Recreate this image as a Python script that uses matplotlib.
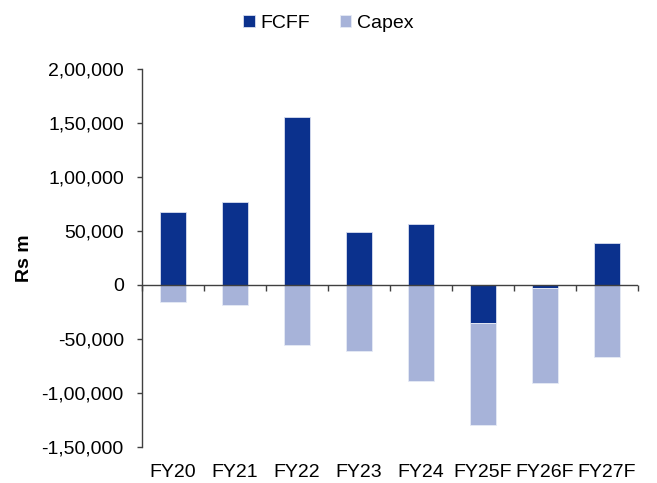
import matplotlib
matplotlib.use("Agg")
import matplotlib.pyplot as plt
import numpy as np

categories = ["FY20", "FY21", "FY22", "FY23", "FY24", "FY25F", "FY26F", "FY27F"]
fcff = [67600, 77000, 156000, 49400, 56200, -34900, -2500, 38600]
capex = [-16000, -18200, -55600, -61100, -88900, -94400, -87900, -66700]
yticks = [200000, 150000, 100000, 50000, 0, -50000, -100000, -150000]
ytick_labels = ["2,00,000", "1,50,000", "1,00,000", "50,000", "0", "-50,000", "-1,00,000", "-1,50,000"]

plt.rcParams['font.family'] = ['Liberation Sans', 'DejaVu Sans']

dark = "#0B318D"
light = "#A7B3D9"
fs = 14.0

fig = plt.figure(figsize=(6.57, 4.83), dpi=100)
ax = fig.add_axes([142/657, 1 - 447/483, (638-142)/657, (447-69)/483])

x = np.arange(len(categories))
w = 0.41
ax.bar(x, fcff, width=w, color=dark, edgecolor="#D8DEF0", linewidth=0.6, label="FCFF", zorder=2)
cap_bottom = [min(f, 0) for f in fcff]
ax.bar(x, capex, width=w, bottom=cap_bottom, color=light, edgecolor="#E6EAF5", linewidth=0.6, label="Capex", zorder=2)

ax.set_xlim(-0.5, len(categories) - 0.5)
ax.set_ylim(-150000, 200000)
ax.set_yticks(yticks)
ax.set_yticklabels(ytick_labels, fontsize=fs)
ax.set_xticks(x)
ax.set_xticklabels(categories, fontsize=fs)
ax.tick_params(axis='x', length=0, pad=12)
ax.tick_params(axis='y', length=3.6, width=1, color="#404040", direction='out', pad=9.5)

for s in ["top", "right", "bottom"]:
    ax.spines[s].set_visible(False)
ax.spines["left"].set_color("#404040")
ax.spines["left"].set_linewidth(1.0)

ax.axhline(0, color="#404040", linewidth=1.0, zorder=3)
# boundary tick marks on the zero line
frac0 = 150000 / 350000
sec = ax.secondary_xaxis(frac0)
sec.set_xticks(np.arange(-0.5, len(categories), 1.0))
sec.set_xticklabels([])
sec.tick_params(axis='x', length=4, width=1, color="#404040", direction='out')
sec.spines["bottom"].set_visible(False)

ax.set_ylabel("Rs m", fontsize=fs, fontweight="bold", labelpad=6)

leg = fig.legend(loc="upper center", bbox_to_anchor=(0.5, 1.005), ncol=2, frameon=False,
                 fontsize=fs, handlelength=0.6, handleheight=0.6, handletextpad=0.3,
                 columnspacing=1.5)

fig.savefig("out.png", dpi=100)
